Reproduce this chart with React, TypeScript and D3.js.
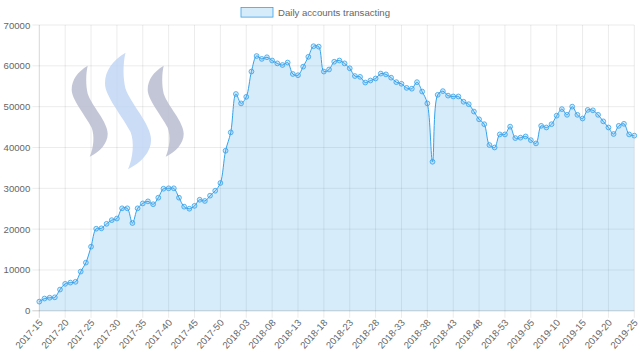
import React from "react";
import * as d3 from "d3";

// week ranges on the x axis (year, first week, last week)
const weekRanges: [number, number, number][] = [
  [2017, 15, 52],
  [2018, 1, 53],
  [2019, 1, 25],
];
const weeks: string[] = [];
weekRanges.forEach(([y, a, b]) => {
  for (let w = a; w <= b; w++) weeks.push(y + "-" + String(w).padStart(2, "0"));
});

// daily accounts transacting, one value per week
const accounts = [
  2250, 3000, 3200, 3300, 5200, 6600, 6900, 7100, 9600, 11800,
  15700, 20100, 20200, 21300, 22200, 22600, 25100, 25100, 21500, 25100,
  26300, 26800, 26100, 27700, 29900, 30000, 30000, 27700, 25500, 25000,
  25700, 27200, 26900, 28200, 29400, 31300, 39200, 43700, 53100, 50800,
  52400, 58600, 62400, 61700, 62100, 61300, 60600, 60200, 60800, 58000,
  57700, 59800, 62200, 64800, 64700, 58600, 59100, 61000, 61300, 60600,
  59400, 57500, 57300, 55900, 56400, 56900, 58100, 57900, 57100, 56000,
  55600, 54600, 54400, 56000, 53700, 50800, 36500, 52900, 53800, 52700,
  52500, 52500, 51200, 50600, 48800, 46900, 45700, 40600, 40000, 43200,
  43200, 45100, 42300, 42400, 42700, 41800, 41000, 45300, 44900, 45700,
  47800, 49400, 48000, 50000, 48000, 47100, 49200, 49100, 48000, 46400,
  44900, 43300, 45300, 45800, 43200, 42900,
];

const yTickValues = [0, 10000, 20000, 30000, 40000, 50000, 60000, 70000];
const legendLabel = "Daily accounts transacting";

// steem logo ribbon, drawn in a 36 x 91 box
const ribbon =
  "M16,0 C6,6 0,14 0,24 C0,34 14,50 20,62 C23,70 22,82 18,91 C28,86 36,78 36,68 C36,56 20,40 16,28 C14,20 14,8 16,0 Z";

export default function App() {
  const width = 640,
    height = 361;
  const left = 39.3,
    right = 634.3,
    top = 25,
    bottom = 310.8;
  const font = "'Liberation Sans', Arial, Helvetica, sans-serif";
  const fs = 9.6;
  const blue = "rgb(54,162,235)";
  const blueFill = "rgba(54,162,235,0.2)";

  const x = d3.scalePoint<string>().domain(weeks).range([left, right]);
  const y = d3.scaleLinear().domain([0, 70000]).range([bottom, top]);

  const pts = accounts.map((v, i) => [x(weeks[i]) as number, y(v)] as [number, number]);
  const line = d3.line().curve(d3.curveCatmullRom.alpha(0.5))(pts) || "";
  const area =
    d3
      .area()
      .x((d) => d[0])
      .y0(y(0))
      .y1((d) => d[1])
      .curve(d3.curveCatmullRom.alpha(0.5))(pts) || "";

  const xTicks = weeks.filter((_, i) => i % 5 === 0);

  return (
    <svg
      width={width}
      height={height}
      style={{ position: "absolute", left: 0, top: 0, background: "#fff" }}
      fontFamily={font}
    >
      {/* legend */}
      <rect x={241} y={7.5} width={32} height={fs} fill={blueFill} stroke={blue} strokeWidth={0.8} />
      <text x={278} y={12.5} fontSize={fs} fill="#666" dominantBaseline="central">
        {legendLabel}
      </text>

      {/* grid */}
      {yTickValues.map((t) => (
        <g key={t}>
          <line
            x1={left - 7}
            x2={right}
            y1={y(t)}
            y2={y(t)}
            stroke={t === 0 ? "rgba(0,0,0,0.25)" : "rgba(0,0,0,0.1)"}
            strokeWidth={0.8}
          />
          <text x={left - 9} y={y(t)} fontSize={fs} fill="#666" textAnchor="end" dominantBaseline="central">
            {t}
          </text>
        </g>
      ))}
      {xTicks.map((w) => (
        <g key={w}>
          <line
            x1={x(w)}
            x2={x(w)}
            y1={top}
            y2={bottom + 7}
            stroke={w === weeks[0] ? "rgba(0,0,0,0.2)" : "rgba(0,0,0,0.1)"}
            strokeWidth={0.8}
          />
          <text
            transform={`translate(${(x(w) as number) + 1.5},${bottom + 10}) rotate(-48)`}
            fontSize={fs}
            fill="#666"
            textAnchor="end"
            dominantBaseline="central"
          >
            {w}
          </text>
        </g>
      ))}

      {/* logo */}
      <g opacity={0.85}>
        <path d={ribbon} transform="translate(71.7,65.7)" fill="#b9bdd0" />
        <path d={ribbon} transform="translate(105,52.7) scale(1.28)" fill="#c2d6f6" />
        <path d={ribbon} transform="translate(147.7,65.7)" fill="#b9bdd0" />
      </g>

      {/* data */}
      <path d={area} fill={blueFill} />
      <path d={line} fill="none" stroke={blue} strokeWidth={1} />
      {pts.map((p, i) => (
        <circle key={i} cx={p[0]} cy={p[1]} r={2.4} fill={blueFill} stroke={blue} strokeWidth={0.8} />
      ))}
    </svg>
  );
}
